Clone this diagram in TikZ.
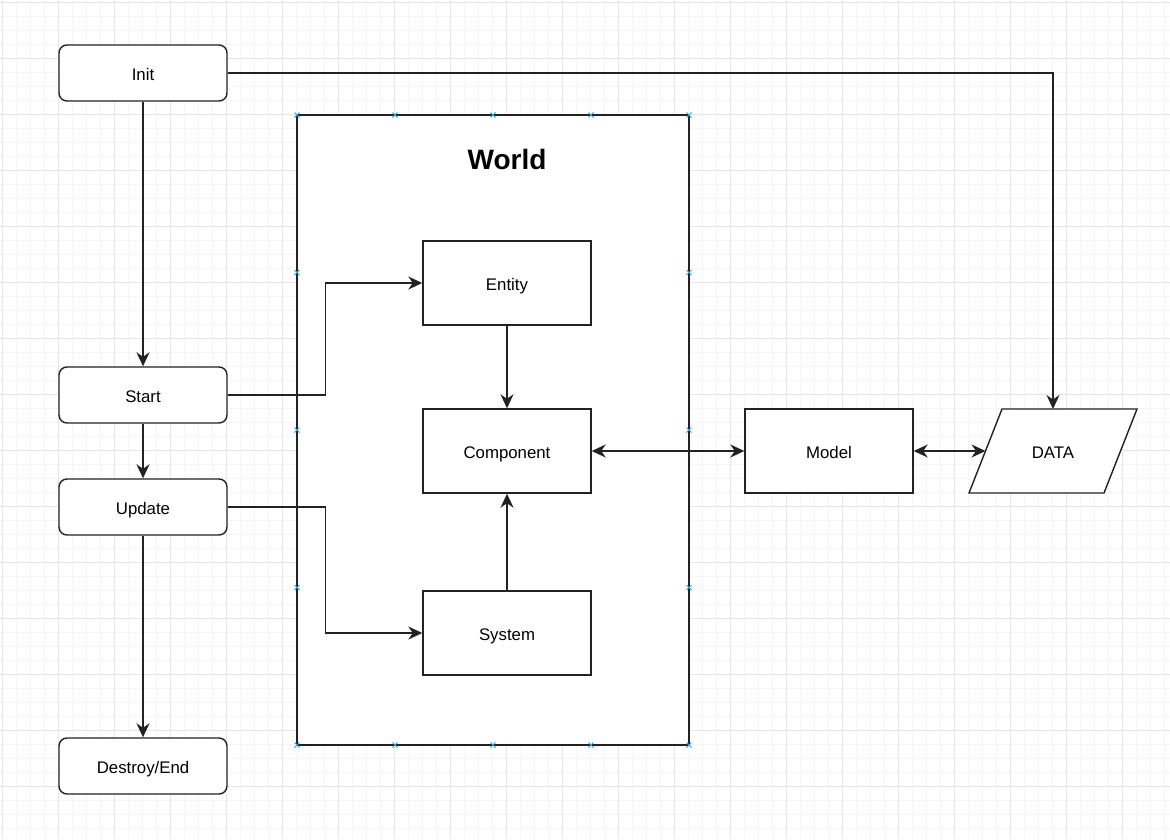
\documentclass[tikz,border=0pt]{standalone}
\usepackage{fontspec}
\setmainfont{Liberation Sans}
\usetikzlibrary{arrows.meta}
\definecolor{edgecol}{HTML}{222222}
\definecolor{gridmajor}{HTML}{E6E6E6}
\definecolor{gridminor}{HTML}{F5F5F5}
\definecolor{handle}{HTML}{2CA0DC}
\begin{document}
\begin{tikzpicture}[x=1pt,y=-1pt,
  tip/.tip={Stealth[length=14pt,width=13pt,inset=4.5pt]},
  arr/.style={draw=edgecol,line width=1.4pt,-tip},
  darr/.style={draw=edgecol,line width=1.4pt,tip-tip},
  box/.style={draw=edgecol,line width=1.4pt,fill=white,minimum width=168pt,minimum height=84pt,inner sep=0pt,font=\fontsize{16.8}{20}\selectfont,text height=14pt,text depth=0pt},
  rbox/.style={box,minimum height=56pt,rounded corners=8pt},
  lbl/.style={font=\fontsize{16.8}{20}\selectfont,inner sep=0pt,text height=14pt,text depth=0pt},
  handlemark/.style={draw=handle,line width=0.9pt}]
\useasboundingbox (0,0) rectangle (1170,839);
\fill[white] (0,0) rectangle (1170,839);
% grid
\foreach \x in {2,16,...,1170} \draw[gridminor,line width=0.8pt] (\x,0) -- (\x,839);
\foreach \y in {2,16,...,839} \draw[gridminor,line width=0.8pt] (0,\y) -- (1170,\y);
\foreach \x in {2,58,...,1170} \draw[gridmajor,line width=1pt] (\x,0) -- (\x,839);
\foreach \y in {2,58,...,839} \draw[gridmajor,line width=1pt] (0,\y) -- (1170,\y);
% world container
\node[draw=edgecol,line width=1.4pt,fill=white,minimum width=392pt,minimum height=630pt,inner sep=0pt] (world) at (493,430) {};
\node[font=\fontsize{28}{32}\selectfont\bfseries,inner sep=0pt] (title) at (507,159) {World};
% nodes
\node[rbox] (init) at (143,73) {Init};
\node[rbox] (start) at (143,395) {Start};
\node[rbox] (update) at (143,507) {Update};
\node[rbox] (destroy) at (143,766) {Destroy/End};
\node[box] (entity) at (507,283) {Entity};
\node[box] (component) at (507,451) {Component};
\node[box] (system) at (507,633) {System};
\node[box] (model) at (829,451) {Model};
% DATA parallelogram
\draw[edgecol,line width=1.4pt,fill=white,line join=miter] (1002,409) -- (1137,409) -- (1104,493) -- (969,493) -- cycle;
\node[lbl] (data) at (1053,451) {DATA};
\coordinate (dataN) at (1053,409);
\coordinate (dataW) at (985.5,451);
% handles
\foreach \x in {297,395,493,591,689} {
  \foreach \y in {115,745} {
    \draw[handlemark] (\x-2.5,\y-2.5) -- (\x+2.5,\y+2.5) (\x-2.5,\y+2.5) -- (\x+2.5,\y-2.5);
  }
}
\foreach \y in {272.5,430,587.5} {
  \foreach \x in {297,689} {
    \draw[handlemark] (\x-2.5,\y-2.5) -- (\x+2.5,\y+2.5) (\x-2.5,\y+2.5) -- (\x+2.5,\y-2.5);
  }
}
% connectors
\draw[arr] (init.east) -| (dataN);
\draw[arr] (init.south) -- (start.north);
\draw[arr] (start.south) -- (update.north);
\draw[arr] (update.south) -- (destroy.north);
\draw[arr] (start.east) -- ++(98,0) |- (entity.west);
\draw[arr] (update.east) -- ++(98,0) |- (system.west);
\draw[arr] (entity.south) -- (component.north);
\draw[arr] (system.north) -- (component.south);
\draw[darr] (component.east) -- (model.west);
\draw[darr] (model.east) -- (dataW);
\end{tikzpicture}
\end{document}
